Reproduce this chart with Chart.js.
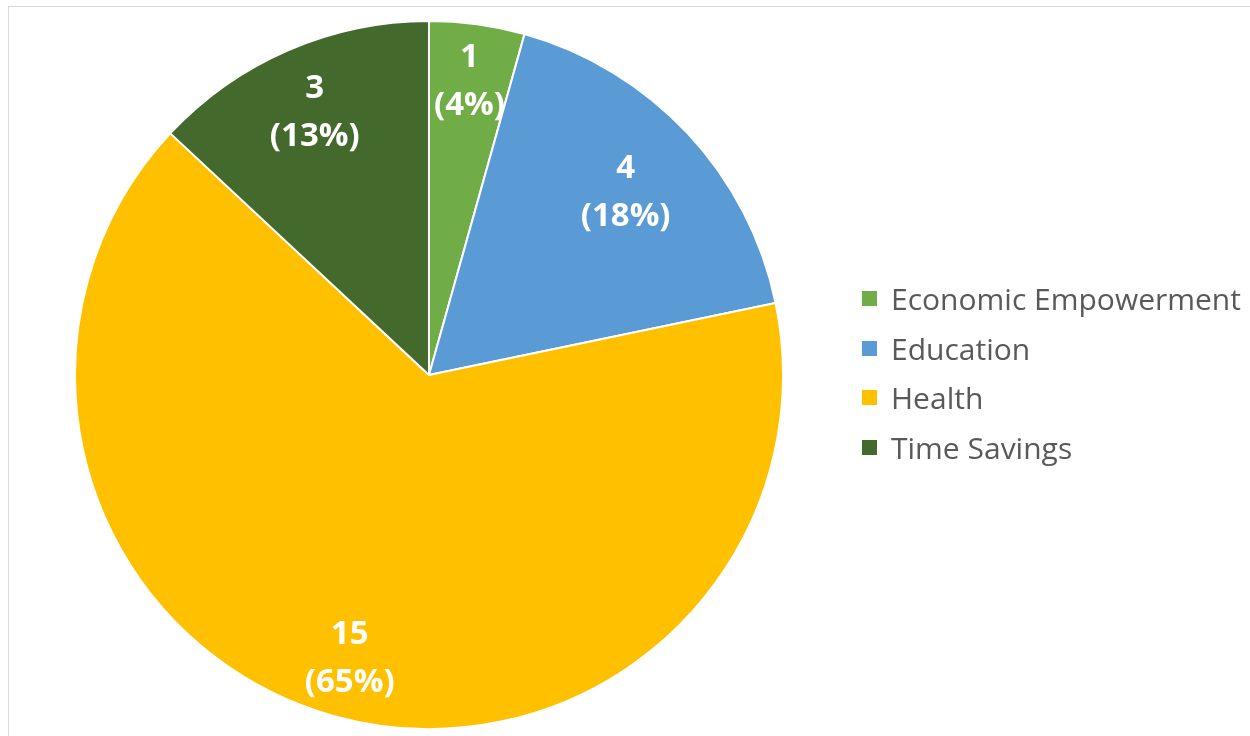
<!DOCTYPE html>
<html>
<head>
<meta charset="utf-8">
<script src="https://cdn.jsdelivr.net/npm/chart.js@4/dist/chart.umd.min.js"></script>
<style>
  html, body { margin: 0; padding: 0; background: #fff; }
  body { width: 1250px; height: 736px; overflow: hidden; position: relative; }
  .frame {
    position: absolute; left: 8px; top: 6px; width: 1300px; height: 800px;
    border-top: 1px solid #d9d9d9; border-left: 1px solid #d9d9d9;
  }
  #wrap { position: absolute; left: 0; top: 0; width: 1250px; height: 736px; }
  #legend {
    position: absolute; left: 862px; top: 274px; margin: 0; padding: 0;
    list-style: none; font-family: "Open Sans", sans-serif; font-size: 30px; color: #595959;
  }
  #legend li { height: 49.5px; display: flex; align-items: center; white-space: nowrap; }
  #legend .box { width: 15px; height: 15px; margin-right: 14px; display: inline-block; }
</style>
</head>
<body>
<div class="frame"></div>
<div id="wrap"><canvas id="pieChart" width="1250" height="736"></canvas></div>
<ul id="legend"></ul>
<script>
// --- Dữ liệu ---
const categories = ['Economic Empowerment', 'Education', 'Health', 'Time Savings'];
const counts = [1, 4, 15, 3];
const percentLabels = [4, 18, 65, 13];

const sliceColors = ['#70AD47', '#5B9BD5', '#FFC000', '#44692C'];
// khoảng cách nhãn tính theo bán kính
const labelRadius = [0.84, 0.76, 0.83, 0.81];

// Nhãn số liệu trên từng lát
const sliceLabels = {
    id: 'sliceLabels',
    afterDatasetsDraw(chart) {
        const ctx = chart.ctx;
        const meta = chart.getDatasetMeta(0);
        ctx.save();
        ctx.fillStyle = '#fff';
        ctx.font = 'bold 33px "Open Sans", sans-serif';
        ctx.textAlign = 'center';
        ctx.textBaseline = 'middle';
        meta.data.forEach((arc, i) => {
            const mid = (arc.startAngle + arc.endAngle) / 2;
            const r = arc.outerRadius * labelRadius[i];
            const x = arc.x + Math.cos(mid) * r;
            const y = arc.y + Math.sin(mid) * r;
            ctx.fillText(String(counts[i]), x, y - 23);
            ctx.fillText('(' + percentLabels[i] + '%)', x, y + 25);
        });
        ctx.restore();
    }
};

new Chart(document.getElementById('pieChart'), {
    type: 'pie',
    data: {
        labels: categories,
        datasets: [{
            data: counts,
            backgroundColor: sliceColors,
            borderColor: '#fff',
            borderWidth: 2
        }]
    },
    options: {
        responsive: false,
        animation: false,
        layout: { padding: { left: 74, top: 19, right: 466, bottom: 5 } },
        plugins: {
            legend: { display: false },
            tooltip: { enabled: false }
        }
    },
    plugins: [sliceLabels]
});

// Chú thích bên phải
const legendEl = document.getElementById('legend');
categories.forEach((name, i) => {
    const li = document.createElement('li');
    const box = document.createElement('span');
    box.className = 'box';
    box.style.background = sliceColors[i];
    li.appendChild(box);
    li.appendChild(document.createTextNode(name));
    legendEl.appendChild(li);
});
</script>
</body>
</html>
